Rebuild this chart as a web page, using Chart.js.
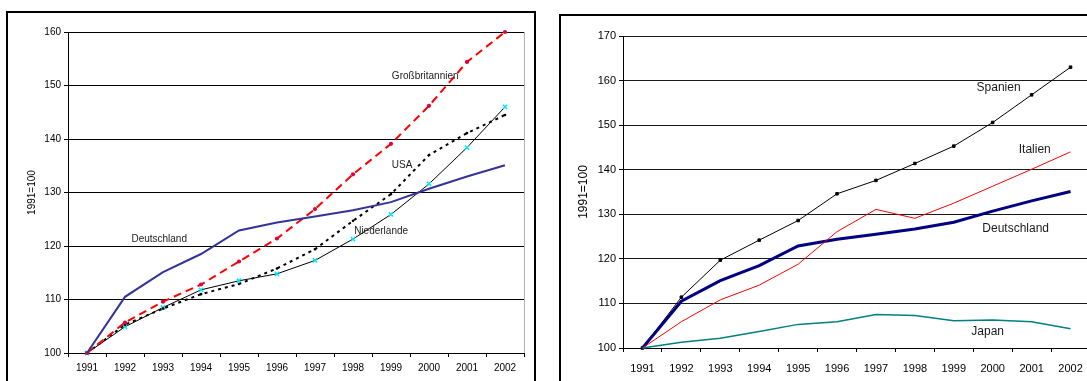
<!DOCTYPE html>
<html>
<head>
<meta charset="utf-8">
<script src="https://cdn.jsdelivr.net/npm/chart.js@4.4.1/dist/chart.umd.min.js"></script>
<style>
  html, body { margin: 0; padding: 0; background: #fff; overflow: hidden; width: 1087px; height: 381px; }
  .frame { position: absolute; border: 2px solid #000; box-sizing: border-box; }
  #frameLeft { left: 6px; top: 11px; width: 530px; height: 430px; }
  #frameRight { left: 559px; top: 14px; width: 600px; height: 430px; }
  canvas { position: absolute; top: 0; }
  #chartLeft { left: 0; }
  #chartRight { left: 545px; }
</style>
</head>
<body>
<div class="frame" id="frameLeft"></div>
<div class="frame" id="frameRight"></div>
<canvas id="chartLeft" width="545" height="381"></canvas>
<canvas id="chartRight" width="560" height="381"></canvas>
<script>
// Index 1991 = 100
const years = ['1991', '1992', '1993', '1994', '1995', '1996', '1997', '1998', '1999', '2000', '2001', '2002'];

const deutschland     = [100, 110.5, 115.1, 118.5, 122.9, 124.4, 125.5, 126.7, 128.2, 130.7, 133.0, 135.1];
const grossbritannien = [100, 105.7, 109.6, 112.8, 117.1, 121.4, 126.9, 133.4, 139.1, 146.2, 154.4, 160.0];
const usa             = [100, 105.3, 108.3, 111.0, 112.9, 115.8, 119.4, 124.7, 129.7, 137.0, 141.1, 144.5];
const niederlande     = [100, 104.9, 108.5, 111.8, 113.5, 114.8, 117.3, 121.3, 125.9, 131.6, 138.4, 146.0];

const spanien = [100, 111.4, 119.7, 124.2, 128.6, 134.6, 137.6, 141.4, 145.3, 150.6, 156.8, 163.0];
const italien = [100, 105.9, 110.8, 114.1, 118.8, 126.1, 131.1, 129.1, 132.5, 136.3, 140.1, 144.0];
const japan   = [100, 101.3, 102.2, 103.7, 105.3, 105.9, 107.5, 107.3, 106.1, 106.3, 105.9, 104.3];

const leftTicks  = [100, 110, 120, 130, 140, 150, 160];
const rightTicks = [100, 110, 120, 130, 140, 150, 160, 170];
const axisTitle = '1991=100';

const FONT = 'Arial, "Liberation Sans", Helvetica, sans-serif';

// Series names written next to their lines (x = year index, y = index value)
const leftNotes = [
  { text: 'Großbritannien', x: 8.9,  y: 151.8 },
  { text: 'USA',            x: 8.29, y: 135.1 },
  { text: 'Niederlande',    x: 7.74, y: 122.8 },
  { text: 'Deutschland',    x: 1.9,  y: 121.3 }
];
const rightNotes = [
  { text: 'Spanien',     x: 9.15,  y: 158.3 },
  { text: 'Italien',     x: 10.08, y: 144.4 },
  { text: 'Deutschland', x: 9.59,  y: 126.7 },
  { text: 'Japan',       x: 8.87,  y: 103.6 }
];

const seriesNotes = {
  id: 'seriesNotes',
  afterDatasetsDraw(chart, args, opts) {
    const { ctx, scales: { x, y } } = chart;
    ctx.save();
    ctx.font = opts.font;
    ctx.fillStyle = opts.color;
    ctx.textAlign = 'center';
    ctx.textBaseline = 'middle';
    for (const n of opts.items) {
      ctx.fillText(n.text, x.getPixelForValue(n.x), y.getPixelForValue(n.y));
    }
    ctx.restore();
  }
};

function buildChart(canvas, cfg) {
  return new Chart(canvas, {
    type: 'line',
    data: { labels: years, datasets: cfg.datasets },
    plugins: [seriesNotes],
    options: {
      responsive: false,
      devicePixelRatio: 1,
      animation: false,
      layout: { padding: cfg.padding },
      elements: { line: { tension: 0 } },
      plugins: {
        legend: { display: false },
        tooltip: { enabled: false },
        seriesNotes: { items: cfg.notes, font: cfg.noteFont, color: '#1a1a1a' }
      },
      scales: {
        x: {
          offset: true,
          grid: {
            offset: true,
            drawOnChartArea: true,
            color: c => (c.type === 'scale' ? cfg.edgeColor : 'rgba(0,0,0,0)'),
            tickColor: '#000',
            tickLength: 4,
            lineWidth: 1
          },
          border: { display: true, color: '#000', width: 1 },
          ticks: { color: '#000', font: { family: FONT, size: cfg.tickSize }, padding: cfg.xPad, maxRotation: 0, autoSkip: false },
          afterFit: s => { s.height = cfg.xHeight; }
        },
        y: {
          min: cfg.ticks[0],
          max: cfg.ticks[cfg.ticks.length - 1],
          afterBuildTicks: s => { s.ticks = cfg.ticks.map(v => ({ value: v })); },
          grid: { color: cfg.gridColor, lineWidth: 1, tickLength: 4, tickColor: '#000' },
          border: { display: true, color: '#000', width: 1 },
          ticks: { color: '#000', font: { family: FONT, size: cfg.tickSize }, padding: 3 },
          title: {
            display: true, text: axisTitle, color: '#000',
            font: { family: FONT, size: cfg.titleSize },
            padding: { top: cfg.titlePad, bottom: 0 }
          },
          afterFit: s => { s.width = cfg.yWidth; }
        }
      }
    }
  });
}

buildChart(document.getElementById('chartLeft'), {
  padding: { left: 0, top: 32, right: 21, bottom: 0 },
  yWidth: 68, xHeight: 28, xPad: 5, titlePad: 26,
  tickSize: 10, titleSize: 10, noteFont: '10px ' + FONT,
  ticks: leftTicks, gridColor: '#000', edgeColor: '#b4b4b4',
  notes: leftNotes,
  datasets: [
    { label: 'Deutschland', data: deutschland, borderColor: '#333399', borderWidth: 2, pointRadius: 0, clip: false },
    { label: 'Großbritannien', data: grossbritannien, borderColor: '#ff0000', borderWidth: 2, borderDash: [8, 5],
      pointRadius: 2.1, pointBorderWidth: 0, pointBackgroundColor: '#e0003c', clip: false },
    { label: 'USA', data: usa, borderColor: '#000', borderWidth: 2, borderDash: [3, 4],
      pointRadius: 1.3, pointBorderWidth: 0, pointBackgroundColor: '#000', clip: false },
    { label: 'Niederlande', data: niederlande, borderColor: '#000', borderWidth: 1,
      pointStyle: 'crossRot', pointRadius: 3, pointBorderColor: '#00e5ff', pointBorderWidth: 1.5, clip: false }
  ]
});

buildChart(document.getElementById('chartRight'), {
  padding: { left: 0, top: 36, right: 15, bottom: 0 },
  yWidth: 78, xHeight: 33, xPad: 10, titlePad: 31,
  tickSize: 11, titleSize: 12, noteFont: '12px ' + FONT,
  ticks: rightTicks, gridColor: '#1a1a1a', edgeColor: 'rgba(0,0,0,0)',
  notes: rightNotes,
  datasets: [
    { label: 'Japan', data: japan, borderColor: '#008080', borderWidth: 1.5, pointRadius: 0, clip: false },
    { label: 'Italien', data: italien, borderColor: '#ff0000', borderWidth: 1, pointRadius: 0, clip: false },
    { label: 'Deutschland', data: deutschland, borderColor: '#000080', borderWidth: 3, pointRadius: 0, clip: false },
    { label: 'Spanien', data: spanien, borderColor: '#000', borderWidth: 1,
      pointStyle: 'rect', pointRadius: 1.8, pointBackgroundColor: '#000', pointBorderColor: '#000', clip: false }
  ]
});
</script>
</body>
</html>
